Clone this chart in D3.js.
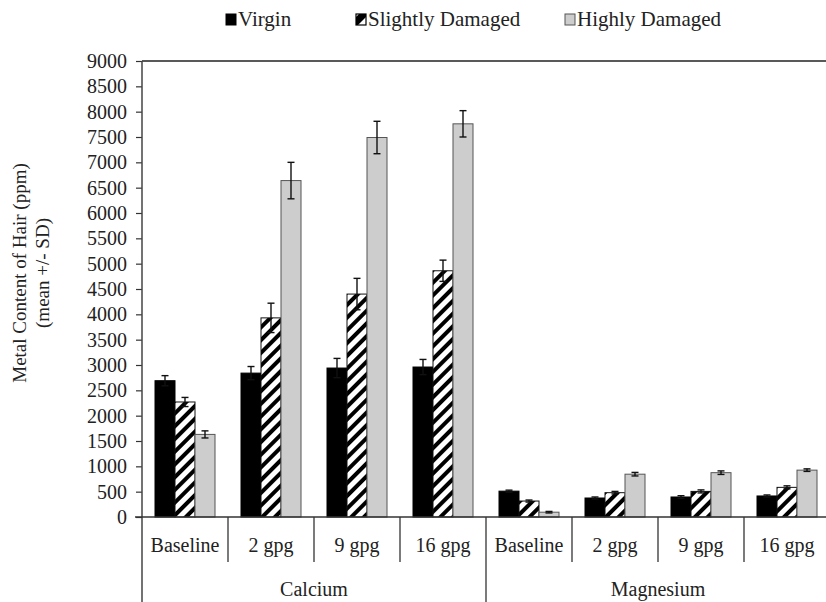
<!DOCTYPE html>
<head>
  <title>Metal content of hair</title>
  <meta charset="utf-8">
  <script src="https://d3js.org/d3.v7.min.js"></script>
  <style>
    body { margin: 0; background: #fff; }
    text { font-family: "Liberation Serif", "Times New Roman", serif; fill: #222; }
    .axis path, .axis line { stroke: #333; }
  </style>
</head>
<body>
  <div class="container"></div>
  <script>
'use strict';
var width = 826;
var height = 602;

// data
var metals = ['Calcium', 'Magnesium'];
var treatments = ['Baseline', '2 gpg', '9 gpg', '16 gpg'];
var series = ['Virgin', 'Slightly Damaged', 'Highly Damaged'];
var virginMean = [2690, 2840, 2940, 2960, 510, 375, 395, 415];
var virginSD = [100, 130, 190, 150, 20, 20, 25, 20];
var slightMean = [2270, 3930, 4400, 4860, 315, 480, 505, 585];
var slightSD = [90, 290, 310, 210, 20, 25, 30, 30];
var highMean = [1630, 6640, 7490, 7760, 95, 845, 875, 925];
var highSD = [70, 360, 320, 260, 15, 35, 35, 25];
var yTicks = d3.range(0, 9001, 500);

var groups = [];
metals.forEach(function (m) {
  treatments.forEach(function (t) { groups.push(m + '|' + t); });
});
var means = [virginMean, slightMean, highMean];
var sds = [virginSD, slightSD, highSD];

var plotL = 142, plotT = 61, plotB = 517, plotR = 830;
var fs = '20px';

var svg = d3.select('.container').append('svg')
  .attr('width', width)
  .attr('height', height);

var defs = svg.append('defs');
var pat = defs.append('pattern')
  .attr('id', 'hatch')
  .attr('patternUnits', 'userSpaceOnUse')
  .attr('width', 9)
  .attr('height', 9)
  .attr('patternTransform', 'rotate(45)');
pat.append('rect').attr('width', 9).attr('height', 9).attr('fill', '#fff');
pat.append('line')
  .attr('x1', 0).attr('y1', 0).attr('x2', 0).attr('y2', 9)
  .attr('stroke', '#000').attr('stroke-width', 8);

var fills = ['#000', 'url(#hatch)', '#cdcdcd'];
var strokes = ['#000', '#111', '#555'];

var x = d3.scaleBand().domain(groups).range([plotL, plotR]);
var xs = d3.scaleBand().domain(series).range([0, x.bandwidth()]).paddingOuter(0.65);
var y = d3.scaleLinear().domain([0, 9000]).range([plotB, plotT]);

// y axis
var yAxis = svg.append('g')
  .attr('class', 'axis')
  .attr('transform', 'translate(' + plotL + ',0)')
  .call(d3.axisLeft(y).tickValues(yTicks).tickSize(6).tickPadding(9).tickFormat(d3.format('d')));
yAxis.select('.domain').remove();
yAxis.selectAll('text').style('font-size', fs);
yAxis.selectAll('line').attr('stroke-width', 1.2);

// frame lines
svg.append('line').attr('x1', plotL).attr('x2', width).attr('y1', plotT).attr('y2', plotT)
  .attr('stroke', '#222').attr('stroke-width', 1.5);
svg.append('line').attr('x1', plotL).attr('x2', plotL).attr('y1', plotT).attr('y2', height)
  .attr('stroke', '#444').attr('stroke-width', 1.5);

// bars
var barData = [];
groups.forEach(function (g, gi) {
  series.forEach(function (s, si) {
    barData.push({ g: g, s: s, si: si, v: means[si][gi], sd: sds[si][gi] });
  });
});

svg.append('g').selectAll('rect')
  .data(barData)
  .enter().append('rect')
  .attr('x', function (d) { return x(d.g) + xs(d.s); })
  .attr('y', function (d) { return y(d.v); })
  .attr('width', xs.bandwidth())
  .attr('height', function (d) { return plotB - y(d.v); })
  .attr('fill', function (d) { return fills[d.si]; })
  .attr('stroke', function (d) { return strokes[d.si]; })
  .attr('stroke-width', 1);

// error bars
var eb = svg.append('g').attr('stroke', '#111').attr('stroke-width', 1.4);
barData.forEach(function (d) {
  var cx = x(d.g) + xs(d.s) + xs.bandwidth() / 2;
  var y0 = y(d.v - d.sd), y1 = y(d.v + d.sd);
  eb.append('line').attr('x1', cx).attr('x2', cx).attr('y1', y0).attr('y2', y1);
  eb.append('line').attr('x1', cx - 3.5).attr('x2', cx + 3.5).attr('y1', y0).attr('y2', y0);
  eb.append('line').attr('x1', cx - 3.5).attr('x2', cx + 3.5).attr('y1', y1).attr('y2', y1);
});

// x axis line
svg.append('line').attr('x1', plotL - 7).attr('x2', width).attr('y1', plotB).attr('y2', plotB)
  .attr('stroke', '#333').attr('stroke-width', 1.5);

// separators
groups.forEach(function (g, gi) {
  if (gi === 0) return;
  var isMetal = gi % treatments.length === 0;
  svg.append('line')
    .attr('x1', x(g)).attr('x2', x(g))
    .attr('y1', plotB).attr('y2', isMetal ? height : 562)
    .attr('stroke', '#333').attr('stroke-width', 1.3);
});

// treatment labels
svg.append('g').selectAll('text')
  .data(groups)
  .enter().append('text')
  .attr('x', function (g) { return x(g) + x.bandwidth() / 2; })
  .attr('y', 552)
  .attr('text-anchor', 'middle')
  .style('font-size', fs)
  .text(function (g) { return g.split('|')[1]; });

// metal labels
svg.append('g').selectAll('text')
  .data(metals)
  .enter().append('text')
  .attr('x', function (m, i) { return plotL + x.step() * treatments.length * (i + 0.5); })
  .attr('y', 596)
  .attr('text-anchor', 'middle')
  .style('font-size', fs)
  .text(function (m) { return m; });

// y axis title
var yt = svg.append('text')
  .attr('transform', 'translate(19,273) rotate(-90)')
  .attr('text-anchor', 'middle')
  .style('font-size', '19px');
yt.append('tspan').attr('x', 0).attr('dy', '0.35em').text('Metal Content of Hair (ppm)');
yt.append('tspan').attr('x', 0).attr('dy', '1.25em').text('(mean +/- SD)');

// legend
var legX = [226, 356, 565];
var leg = svg.append('g').selectAll('g')
  .data(series)
  .enter().append('g')
  .attr('transform', function (d, i) { return 'translate(' + legX[i] + ',14)'; });
leg.each(function (d, i) {
  var g = d3.select(this);
  if (i === 1) {
    g.append('rect').attr('width', 10).attr('height', 11).attr('fill', '#fff')
      .attr('stroke', '#000').attr('stroke-width', 1.2);
    g.append('path').attr('d', 'M0,11 L0,3 L3,0 L10,0 L10,3 L2,11 Z').attr('fill', '#000');
  } else {
    g.append('rect').attr('width', 10).attr('height', 11)
      .attr('fill', fills[i]).attr('stroke', strokes[i]).attr('stroke-width', 1);
  }
  g.append('text').attr('x', 12).attr('y', 12).style('font-size', '21px').text(d);
});
  </script>
</body>
